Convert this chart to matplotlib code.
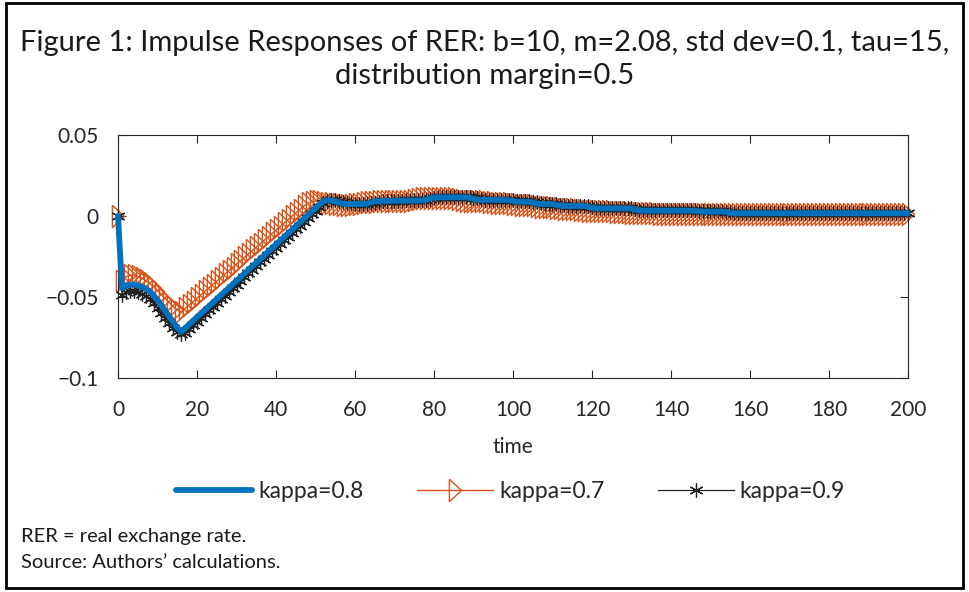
import matplotlib
matplotlib.use("Agg")
import matplotlib.pyplot as plt
from matplotlib.patches import Rectangle

plt.rcParams["font.family"] = ["Lato", "DejaVu Sans"]

# time axis and impulse responses of the RER
time = list(range(0, 201))

rer_k08 = [
    0.0, -0.0446, -0.0430, -0.0424, -0.0423, -0.0428, -0.0436, -0.0448, -0.0465, -0.0490,
    -0.0520, -0.0553, -0.0588, -0.0622, -0.0655, -0.0690, -0.0714, -0.0692, -0.0669, -0.0647,
    -0.0624, -0.0602, -0.0580, -0.0557, -0.0535, -0.0512, -0.0490, -0.0467, -0.0445, -0.0422,
    -0.0400, -0.0378, -0.0355, -0.0333, -0.0310, -0.0288, -0.0265, -0.0243, -0.0220, -0.0198,
    -0.0176, -0.0153, -0.0131, -0.0108, -0.0086, -0.0063, -0.0041, -0.0018, 0.0004, 0.0027,
    0.0049, 0.0072, 0.0092, 0.0097, 0.0095, 0.0090, 0.0082, 0.0076, 0.0074, 0.0074,
    0.0074, 0.0074, 0.0074, 0.0076, 0.0084, 0.0090, 0.0092, 0.0093, 0.0093, 0.0093,
    0.0094, 0.0094, 0.0094, 0.0094, 0.0095, 0.0095, 0.0095, 0.0096, 0.0100, 0.0108,
    0.0114, 0.0115, 0.0115, 0.0115, 0.0115, 0.0115, 0.0115, 0.0115, 0.0115, 0.0113,
    0.0106, 0.0100, 0.0099, 0.0099, 0.0099, 0.0099, 0.0099, 0.0099, 0.0099, 0.0097,
    0.0092, 0.0088, 0.0088, 0.0088, 0.0087, 0.0083, 0.0076, 0.0074, 0.0074, 0.0074,
    0.0073, 0.0068, 0.0063, 0.0062, 0.0062, 0.0062, 0.0062, 0.0062, 0.0061, 0.0057,
    0.0050, 0.0047, 0.0047, 0.0047, 0.0047, 0.0047, 0.0047, 0.0047, 0.0047, 0.0047,
    0.0046, 0.0040, 0.0034, 0.0033, 0.0033, 0.0033, 0.0033, 0.0033, 0.0033, 0.0033,
    0.0033, 0.0033, 0.0033, 0.0033, 0.0033, 0.0033, 0.0032, 0.0029, 0.0027, 0.0027,
    0.0027, 0.0027, 0.0027, 0.0027, 0.0025, 0.0019, 0.0017, 0.0017, 0.0017, 0.0017,
    0.0017, 0.0017, 0.0017, 0.0017, 0.0017, 0.0017, 0.0017, 0.0017, 0.0017, 0.0017,
    0.0017, 0.0017, 0.0017, 0.0017, 0.0017, 0.0017, 0.0017, 0.0017, 0.0017, 0.0017,
    0.0017, 0.0017, 0.0017, 0.0017, 0.0017, 0.0017, 0.0017, 0.0017, 0.0017, 0.0017,
    0.0017, 0.0017, 0.0017, 0.0017, 0.0017, 0.0017, 0.0017, 0.0017, 0.0017, 0.0017,
    0.0017,
]

rer_k07 = [
    0.0, -0.0400, -0.0375, -0.0365, -0.0365, -0.0372, -0.0383, -0.0398, -0.0416, -0.0437,
    -0.0460, -0.0485, -0.0510, -0.0535, -0.0560, -0.0580, -0.0592, -0.0570, -0.0549, -0.0528,
    -0.0507, -0.0486, -0.0465, -0.0444, -0.0423, -0.0402, -0.0381, -0.0360, -0.0339, -0.0318,
    -0.0297, -0.0276, -0.0255, -0.0234, -0.0213, -0.0192, -0.0171, -0.0150, -0.0129, -0.0108,
    -0.0087, -0.0066, -0.0045, -0.0024, -0.0003, 0.0018, 0.0039, 0.0060, 0.0078, 0.0088,
    0.0092, 0.0090, 0.0086, 0.0082, 0.0078, 0.0074, 0.0072, 0.0070, 0.0070, 0.0070,
    0.0071, 0.0074, 0.0080, 0.0085, 0.0088, 0.0089, 0.0090, 0.0090, 0.0090, 0.0091,
    0.0091, 0.0092, 0.0092, 0.0093, 0.0095, 0.0100, 0.0106, 0.0110, 0.0112, 0.0112,
    0.0112, 0.0112, 0.0112, 0.0112, 0.0111, 0.0108, 0.0102, 0.0097, 0.0095, 0.0095,
    0.0095, 0.0095, 0.0094, 0.0092, 0.0088, 0.0084, 0.0083, 0.0083, 0.0082, 0.0080,
    0.0076, 0.0071, 0.0069, 0.0068, 0.0068, 0.0066, 0.0062, 0.0058, 0.0056, 0.0056,
    0.0055, 0.0052, 0.0048, 0.0045, 0.0044, 0.0044, 0.0043, 0.0040, 0.0036, 0.0033,
    0.0032, 0.0032, 0.0032, 0.0031, 0.0030, 0.0028, 0.0025, 0.0023, 0.0022, 0.0022,
    0.0021, 0.0020, 0.0018, 0.0017, 0.0016, 0.0016, 0.0016, 0.0015, 0.0015, 0.0015,
    0.0015, 0.0014, 0.0014, 0.0013, 0.0013, 0.0013, 0.0012, 0.0012, 0.0012, 0.0011,
    0.0011, 0.0011, 0.0011, 0.0010, 0.0010, 0.0010, 0.0010, 0.0010, 0.0010, 0.0010,
    0.0010, 0.0010, 0.0010, 0.0010, 0.0010, 0.0010, 0.0010, 0.0010, 0.0010, 0.0010,
    0.0010, 0.0010, 0.0010, 0.0010, 0.0010, 0.0010, 0.0010, 0.0010, 0.0010, 0.0010,
    0.0010, 0.0010, 0.0010, 0.0010, 0.0010, 0.0010, 0.0010, 0.0010, 0.0010, 0.0010,
    0.0010, 0.0010, 0.0010, 0.0010, 0.0010, 0.0010, 0.0010, 0.0010, 0.0010, 0.0010,
    0.0010,
]

rer_k09 = [
    0.0, -0.0490, -0.0470, -0.0465, -0.0465, -0.0470, -0.0480, -0.0495, -0.0515, -0.0540,
    -0.0570, -0.0600, -0.0630, -0.0660, -0.0690, -0.0715, -0.0730, -0.0720, -0.0697, -0.0674,
    -0.0652, -0.0629, -0.0606, -0.0583, -0.0560, -0.0538, -0.0515, -0.0492, -0.0469, -0.0446,
    -0.0424, -0.0401, -0.0378, -0.0355, -0.0332, -0.0310, -0.0287, -0.0264, -0.0241, -0.0218,
    -0.0196, -0.0173, -0.0150, -0.0127, -0.0104, -0.0082, -0.0059, -0.0036, -0.0013, 0.0010,
    0.0032, 0.0055, 0.0078, 0.0094, 0.0098, 0.0096, 0.0090, 0.0084, 0.0080, 0.0078,
    0.0077, 0.0077, 0.0077, 0.0077, 0.0078, 0.0082, 0.0088, 0.0092, 0.0094, 0.0094,
    0.0095, 0.0095, 0.0095, 0.0096, 0.0096, 0.0096, 0.0096, 0.0096, 0.0098, 0.0103,
    0.0110, 0.0115, 0.0117, 0.0118, 0.0118, 0.0118, 0.0118, 0.0118, 0.0118, 0.0117,
    0.0114, 0.0108, 0.0103, 0.0101, 0.0101, 0.0101, 0.0101, 0.0101, 0.0101, 0.0100,
    0.0097, 0.0092, 0.0090, 0.0090, 0.0090, 0.0089, 0.0086, 0.0080, 0.0077, 0.0076,
    0.0076, 0.0073, 0.0068, 0.0065, 0.0064, 0.0064, 0.0064, 0.0064, 0.0063, 0.0060,
    0.0054, 0.0050, 0.0049, 0.0049, 0.0049, 0.0049, 0.0049, 0.0049, 0.0049, 0.0049,
    0.0048, 0.0044, 0.0038, 0.0035, 0.0035, 0.0035, 0.0035, 0.0035, 0.0035, 0.0035,
    0.0035, 0.0035, 0.0035, 0.0035, 0.0035, 0.0035, 0.0034, 0.0031, 0.0029, 0.0029,
    0.0029, 0.0029, 0.0029, 0.0029, 0.0027, 0.0022, 0.0019, 0.0019, 0.0019, 0.0019,
    0.0019, 0.0019, 0.0019, 0.0019, 0.0019, 0.0019, 0.0019, 0.0019, 0.0019, 0.0019,
    0.0019, 0.0019, 0.0019, 0.0019, 0.0019, 0.0019, 0.0019, 0.0019, 0.0019, 0.0019,
    0.0019, 0.0019, 0.0019, 0.0019, 0.0019, 0.0019, 0.0019, 0.0019, 0.0019, 0.0019,
    0.0019, 0.0019, 0.0019, 0.0019, 0.0019, 0.0019, 0.0019, 0.0019, 0.0019, 0.0019,
    0.0019,
]

x_ticks = [0, 20, 40, 60, 80, 100, 120, 140, 160, 180, 200]
y_ticks = [-0.1, -0.05, 0, 0.05]
y_ticklabels = ["\u22120.1", "\u22120.05", "0", "0.05"]

blue = "#0072BD"
orange = "#D95319"

# narrow right-pointing triangle like the MATLAB '>' marker
tri = [(-0.55, 1.0), (0.55, 0.0), (-0.55, -1.0), (-0.55, 1.0)]

fig = plt.figure(figsize=(9.69, 5.92), dpi=100)
ax = fig.add_axes([0.1218, 0.3615, 0.8152, 0.4105])

l1, = ax.plot(time, rer_k08, color=blue, lw=4.2, solid_capstyle="round",
              zorder=4, clip_on=False, label="kappa=0.8")
l2, = ax.plot(time, rer_k07, color=orange, lw=1.0, marker=tri, ms=16,
              mfc="none", mec=orange, mew=1.0, zorder=2, clip_on=False,
              label="kappa=0.7")
l3, = ax.plot(time, rer_k09, color="#222222", lw=0.9, marker=(6, 2, 0), ms=10,
              mew=0.9, zorder=3, clip_on=False, label="kappa=0.9")

ax.set_xlim(0, 200)
ax.set_ylim(-0.1, 0.05)
ax.set_xticks(x_ticks)
ax.set_yticks(y_ticks)
ax.set_yticklabels(y_ticklabels)
ax.tick_params(direction="in", top=True, right=True, length=6, width=0.8,
               labelsize=15, colors="#262626")
ax.tick_params(axis="x", pad=16)
ax.tick_params(axis="y", pad=14)
for s in ax.spines.values():
    s.set_linewidth(0.8)
    s.set_color("#262626")
ax.set_xlabel("time", fontsize=15, color="#262626", labelpad=12)

fig.legend(handles=[l1, l2, l3], loc="center", bbox_to_anchor=(0.527, 0.170),
           ncol=3, frameon=False, fontsize=16.5, handlelength=3.3,
           handletextpad=0.27, columnspacing=2.35, labelcolor="#262626")

fig.text(0.5, 0.927, "Figure 1: Impulse Responses of RER: b=10, m=2.08, std dev=0.1, tau=15,",
         ha="center", va="center", fontsize=21, color="#1a1a1a")
fig.text(0.5, 0.871, "distribution margin=0.5",
         ha="center", va="center", fontsize=21, color="#1a1a1a")

fig.text(0.022, 0.093, "RER = real exchange rate.", ha="left", va="center",
         fontsize=14.5, color="#1a1a1a")
fig.text(0.022, 0.049, "Source: Authors\u2019 calculations.", ha="left", va="center",
         fontsize=14.5, color="#1a1a1a")

fig.patches.append(Rectangle((0.006, 0.006), 0.988, 0.989, transform=fig.transFigure,
                             fill=False, lw=2, ec="black"))

fig.savefig("out.png", dpi=100)
